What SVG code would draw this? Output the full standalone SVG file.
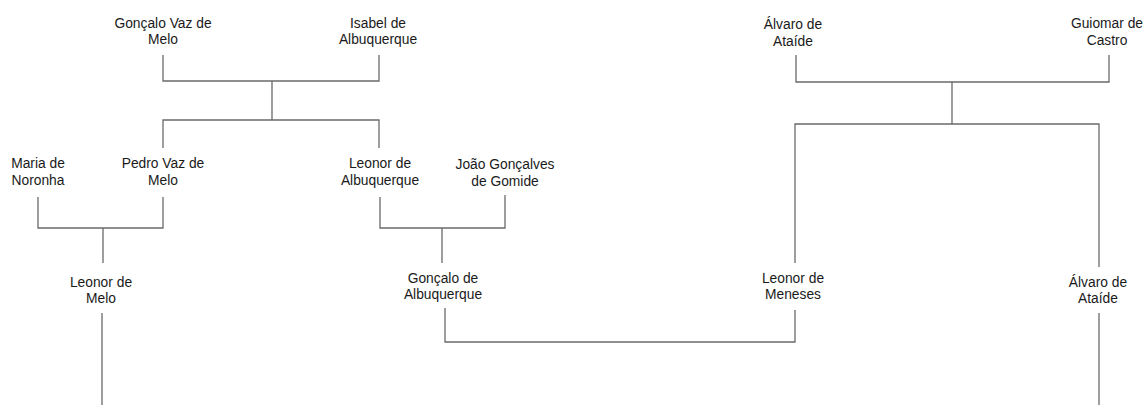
<svg xmlns="http://www.w3.org/2000/svg" width="1145" height="405" viewBox="0 0 1145 405">
<style>
.t{font-family:"Liberation Sans",Arial,sans-serif;font-size:13.8px;fill:#1a1a1a;text-anchor:middle}
.c{fill:none;stroke:#6a6a6a;stroke-width:1.3}
</style>
<rect width="1145" height="405" fill="#fff"/>
<g id="connectors" class="c">
<path d="M163 55V81H379V55M272 81V120M163 148V120H379V148"/>
<path d="M38 197V228H163V197M103 228V263M102 313V405"/>
<path d="M380 197V228H505V195M442 228V263"/>
<path d="M445 308V342H795V310"/>
<path d="M796 55V82H1109V55M952 82V124M795 263V124H1099V267M1099 313V405"/>
</g>
<g id="n_goncalo_vaz"><text class="t" x="163" y="28">Gonçalo Vaz de</text><text class="t" x="163" y="44">Melo</text></g>
<g id="n_isabel"><text class="t" x="378" y="28">Isabel de</text><text class="t" x="378" y="44">Albuquerque</text></g>
<g id="n_maria"><text class="t" x="38" y="168">Maria de</text><text class="t" x="38" y="185">Noronha</text></g>
<g id="n_pedro"><text class="t" x="163" y="168">Pedro Vaz de</text><text class="t" x="163" y="185">Melo</text></g>
<g id="n_leonor_alb"><text class="t" x="380" y="168">Leonor de</text><text class="t" x="380" y="185">Albuquerque</text></g>
<g id="n_joao"><text class="t" x="505" y="169">João Gonçalves</text><text class="t" x="505" y="186">de Gomide</text></g>
<g id="n_leonor_melo"><text class="t" x="101" y="287">Leonor de</text><text class="t" x="101" y="303">Melo</text></g>
<g id="n_goncalo_alb"><text class="t" x="443" y="283">Gonçalo de</text><text class="t" x="443" y="299">Albuquerque</text></g>
<g id="n_leonor_men"><text class="t" x="793" y="283">Leonor de</text><text class="t" x="793" y="299">Meneses</text></g>
<g id="n_alvaro_top"><text class="t" x="793" y="29">Álvaro de</text><text class="t" x="793" y="46">Ataíde</text></g>
<g id="n_guiomar"><text class="t" x="1107" y="28">Guiomar de</text><text class="t" x="1107" y="45">Castro</text></g>
<g id="n_alvaro_bot"><text class="t" x="1098" y="287">Álvaro de</text><text class="t" x="1098" y="303">Ataíde</text></g>
</svg>
